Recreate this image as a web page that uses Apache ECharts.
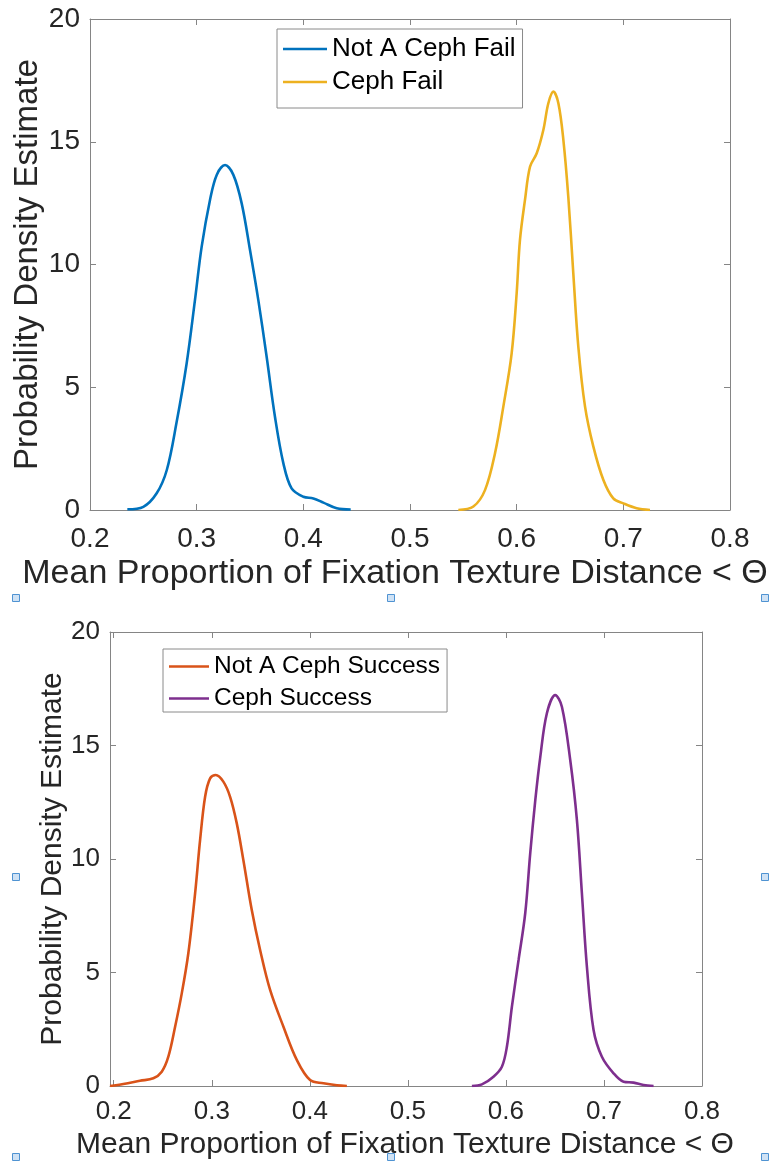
<!DOCTYPE html>
<html>
<head>
<meta charset="utf-8">
<script src="https://cdn.jsdelivr.net/npm/echarts@6/dist/echarts.min.js"></script>
<style>
  html, body { margin: 0; padding: 0; background: #fff; }
  #main { width: 773px; height: 1165px; }
</style>
</head>
<body>
<div id="main"></div>
<script>
// kernel density estimates
var notCephFailX = [0.235, 0.250, 0.2625, 0.272, 0.281, 0.2906, 0.2984, 0.3047, 0.3125, 0.3188, 0.3266, 0.3344, 0.3422, 0.350, 0.3578, 0.3656, 0.3734, 0.3813, 0.389, 0.400, 0.4094, 0.4188, 0.4313, 0.4444];
var notCephFailY = [0.03, 0.13, 0.68, 1.63, 3.53, 5.97, 8.55, 10.73, 12.63, 13.65, 14.05, 13.65, 12.49, 10.59, 8.55, 6.24, 3.80, 1.90, 0.88, 0.54, 0.47, 0.30, 0.07, 0.02];

var cephFailX = [0.5453, 0.5594, 0.5703, 0.5797, 0.5875, 0.5953, 0.600, 0.6031, 0.6078, 0.6125, 0.6188, 0.625, 0.6297, 0.6344, 0.6391, 0.6438, 0.6484, 0.6531, 0.6578, 0.6641, 0.6719, 0.6813, 0.6906, 0.700, 0.7125, 0.725];
var cephFailY = [0.0, 0.14, 0.81, 2.31, 4.21, 6.38, 8.83, 11.0, 12.63, 13.98, 14.53, 15.48, 16.57, 17.04, 16.57, 15.07, 12.76, 9.64, 6.65, 4.21, 2.58, 1.22, 0.47, 0.27, 0.07, 0.0];

var notCephSuccessX = [0.1962, 0.2098, 0.2268, 0.2404, 0.249, 0.2557, 0.2626, 0.2694, 0.2761, 0.283, 0.2881, 0.2932, 0.2983, 0.304, 0.3118, 0.3187, 0.3255, 0.3322, 0.3408, 0.3493, 0.3595, 0.3731, 0.3867, 0.4003, 0.4139, 0.4276, 0.4378];
var notCephSuccessY = [0.0, 0.09, 0.23, 0.34, 0.63, 1.29, 2.61, 4.08, 5.85, 8.49, 10.84, 12.74, 13.55, 13.70, 13.41, 12.74, 11.57, 9.96, 7.75, 5.99, 4.23, 2.61, 1.15, 0.26, 0.12, 0.03, 0.0];

var cephSuccessX = [0.5653, 0.5755, 0.5873, 0.5959, 0.601, 0.6061, 0.6129, 0.6197, 0.6248, 0.630, 0.6351, 0.6418, 0.6503, 0.6571, 0.6656, 0.6724, 0.6775, 0.6826, 0.6894, 0.6979, 0.7098, 0.720, 0.7302, 0.7404, 0.7506];
var cephSuccessY = [0.0, 0.07, 0.41, 0.85, 1.73, 3.49, 5.55, 7.61, 10.25, 12.60, 14.51, 16.42, 17.22, 16.71, 14.36, 11.72, 8.49, 5.26, 2.47, 1.29, 0.56, 0.19, 0.15, 0.04, 0.0];

var xTicks = [0.2, 0.3, 0.4, 0.5, 0.6, 0.7, 0.8];
var yTicks = [0, 5, 10, 15, 20];

var seriesNames = ['Not A Ceph Fail', 'Ceph Fail', 'Not A Ceph Success', 'Ceph Success'];
var xTitle = 'Mean Proportion of Fixation Texture Distance < \u0398';
var yTitle = 'Probability Density Estimate';

function zip(xs, ys) {
  return xs.map(function (x, i) { return [x, ys[i]]; });
}

var FONT = '"Liberation Sans", Arial, Helvetica, sans-serif';
var AXIS_COLOR = '#858585';
var TEXT_COLOR = '#262626';

function xAxisPair(gridIndex, min, fontSize, margin, nameSize, nameGap, nameShift) {
  var common = {
    type: 'value', gridIndex: gridIndex, min: min, max: 0.8,
    splitLine: { show: false },
    axisLine: { show: true, onZero: false, lineStyle: { color: AXIS_COLOR, width: 1 } },
    axisTick: { show: true, inside: true, length: 6, customValues: xTicks, lineStyle: { color: AXIS_COLOR } }
  };
  var bottom = Object.assign({}, common, {
    position: 'bottom',
    name: xTitle, nameLocation: 'middle', nameGap: nameGap, nameMoveOverlap: false,
    nameTextStyle: {
      fontSize: nameSize, color: TEXT_COLOR, fontFamily: FONT,
      padding: [0, nameShift * 2, 0, 0]
    },
    axisLabel: {
      customValues: xTicks, margin: margin, fontSize: fontSize, color: TEXT_COLOR, fontFamily: FONT,
      formatter: function (v) { return v.toFixed(1); }
    }
  });
  var top = Object.assign({}, common, { position: 'top', axisLabel: { show: false } });
  return [bottom, top];
}

function yAxisPair(gridIndex, fontSize, nameSize, nameGap) {
  var common = {
    type: 'value', gridIndex: gridIndex, min: 0, max: 20, interval: 5,
    splitLine: { show: false },
    axisLine: { show: true, onZero: false, lineStyle: { color: AXIS_COLOR, width: 1 } },
    axisTick: { show: true, inside: true, length: 6, customValues: yTicks, lineStyle: { color: AXIS_COLOR } }
  };
  var left = Object.assign({}, common, {
    position: 'left',
    name: yTitle, nameLocation: 'middle', nameGap: nameGap, nameMoveOverlap: false,
    nameTextStyle: { fontSize: nameSize, color: TEXT_COLOR, fontFamily: FONT },
    axisLabel: { customValues: yTicks, margin: 10, fontSize: fontSize, color: TEXT_COLOR, fontFamily: FONT }
  });
  var right = Object.assign({}, common, { position: 'right', axisLabel: { show: false } });
  return [left, right];
}

var topX = xAxisPair(0, 0.2, 28, 15, 34, 47, 15);
var botX = xAxisPair(1, 0.1962, 26, 13, 30, 44, 1);
var topY = yAxisPair(0, 28, 33, 46);
var botY = yAxisPair(1, 26, 30, 42);

function lineSeries(name, color, xi, yi, data) {
  return {
    name: name, type: 'line', xAxisIndex: xi, yAxisIndex: yi,
    data: data, smooth: 0.35, symbol: 'none',
    lineStyle: { color: color, width: 2.6 },
    itemStyle: { color: color }
  };
}

// little selection handles visible in the screenshot
var handles = [[16, 598], [391, 598], [765, 598], [16, 877], [765, 877], [16, 1157], [391, 1157], [765, 1157]];

var chart = echarts.init(document.getElementById('main'));
chart.setOption({
  backgroundColor: '#ffffff',
  animation: false,
  grid: [
    { left: 90, top: 19, right: 43, bottom: 655, outerBoundsMode: 'none', containLabel: false },
    { left: 110, top: 632, right: 71, bottom: 79, outerBoundsMode: 'none', containLabel: false }
  ],
  xAxis: [topX[0], topX[1], botX[0], botX[1]],
  yAxis: [topY[0], topY[1], botY[0], botY[1]],
  legend: [
    {
      data: [seriesNames[0], seriesNames[1]],
      orient: 'vertical', left: 277, top: 29,
      padding: [7, 7, 13, 6], itemGap: 7,
      icon: 'rect', itemWidth: 44, itemHeight: 2.5,
      borderColor: '#8a8a8a', borderWidth: 1, backgroundColor: '#fff',
      textStyle: { fontSize: 26, color: '#000', fontFamily: FONT }
    },
    {
      data: [seriesNames[2], seriesNames[3]],
      orient: 'vertical', left: 163, top: 649,
      padding: [5, 7, 1, 6], itemGap: 7,
      icon: 'rect', itemWidth: 40, itemHeight: 2.5,
      borderColor: '#8a8a8a', borderWidth: 1, backgroundColor: '#fff',
      textStyle: { fontSize: 24.5, color: '#000', fontFamily: FONT }
    }
  ],
  series: [
    lineSeries(seriesNames[0], '#0072BD', 0, 0, zip(notCephFailX, notCephFailY)),
    lineSeries(seriesNames[1], '#EDB120', 0, 0, zip(cephFailX, cephFailY)),
    lineSeries(seriesNames[2], '#D95319', 2, 2, zip(notCephSuccessX, notCephSuccessY)),
    lineSeries(seriesNames[3], '#7E2F8E', 2, 2, zip(cephSuccessX, cephSuccessY))
  ],
  graphic: handles.map(function (p) {
    return {
      type: 'rect', silent: true,
      shape: { x: p[0] - 3.5, y: p[1] - 3.5, width: 7, height: 7 },
      style: { fill: '#cfe2f5', stroke: '#4f93d2', lineWidth: 1 }
    };
  })
});
</script>
</body>
</html>
